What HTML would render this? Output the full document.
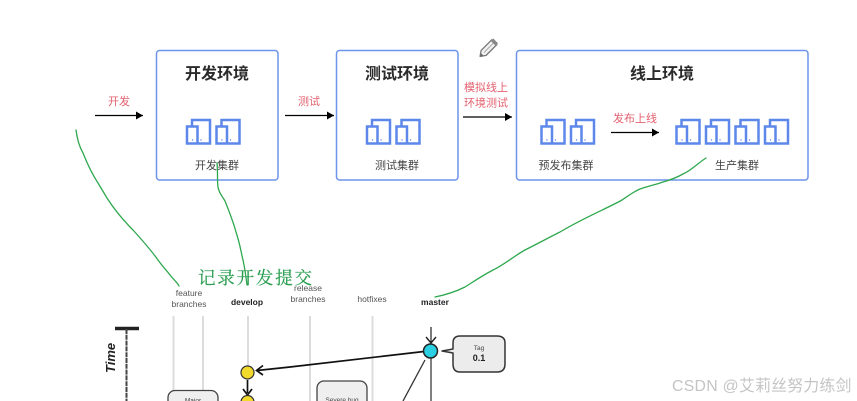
<!DOCTYPE html>
<html><head><meta charset="utf-8">
<style>
html,body{margin:0;padding:0;background:#fff}
svg{display:block;filter:blur(.35px)}
text{font-family:"Liberation Sans","Noto Sans CJK SC",sans-serif}
.t{font-size:16px;font-weight:700;fill:#2b2b2b;text-anchor:middle}
.s{font-size:11px;fill:#444;text-anchor:middle}
.r{font-size:11px;fill:#e4606f;text-anchor:middle}
.g{font-size:8.500px;fill:#555;text-anchor:middle}
.b{font-size:8.500px;font-weight:700;fill:#222;text-anchor:middle}
.box{fill:#fff;stroke:#6d94ea;stroke-width:1.500}
.gl{stroke:#dcdcdc;stroke-width:2;fill:none}
.gr{fill:none;stroke:#2fa84f;stroke-width:1.300;stroke-linejoin:round;stroke-linecap:round}
</style></head>
<body>
<svg width="857" height="401" viewBox="0 0 857 401" xmlns="http://www.w3.org/2000/svg" style="overflow:hidden">
<defs>
<g id="ic" fill="none" stroke="#5d87ea" stroke-width="2.500">
<path d="M6 7.500V1h18v23.500H1V7.500h10.500v17"/>
<circle cx="6.500" cy="21" r=".7" fill="#5d87ea" stroke="none"/>
<circle cx="15" cy="21" r=".7" fill="#5d87ea" stroke="none"/>
</g>
<marker id="ah" markerWidth="9" markerHeight="9" refX="7" refY="4" orient="auto" markerUnits="userSpaceOnUse"><path d="M0 0L7 4L0 8z" fill="#000"/></marker>
</defs>
<rect width="857" height="401" fill="#fff"/>

<rect class="box" x="156.500" y="50.500" width="121.500" height="129.500" rx="3"/>
<rect class="box" x="336.500" y="50.500" width="121.500" height="129.500" rx="3"/>
<rect class="box" x="516.500" y="50.500" width="291.500" height="129.500" rx="3"/>

<text class="t" x="217" y="79">开发环境</text>
<text class="t" x="397" y="79">测试环境</text>
<text class="t" x="662" y="79">线上环境</text>

<use href="#ic" x="186" y="119"/><use href="#ic" x="215.500" y="119"/>
<use href="#ic" x="366" y="119"/><use href="#ic" x="395.500" y="119"/>
<use href="#ic" x="540.500" y="119"/><use href="#ic" x="570" y="119"/>
<use href="#ic" x="675.500" y="119"/><use href="#ic" x="705" y="119"/><use href="#ic" x="734.500" y="119"/><use href="#ic" x="764" y="119"/>

<text class="s" x="217" y="169">开发集群</text>
<text class="s" x="397" y="169">测试集群</text>
<text class="s" x="566" y="169">预发布集群</text>
<text class="s" x="737" y="169">生产集群</text>

<text class="r" x="119" y="105">开发</text>
<text class="r" x="309" y="105">测试</text>
<text class="r" x="486" y="91">模拟线上</text>
<text class="r" x="486" y="106.500">环境测试</text>
<text class="r" x="635" y="122">发布上线</text>

<g stroke="#000" stroke-width="1.300">
<line x1="95" y1="115.500" x2="143" y2="115.500" marker-end="url(#ah)"/>
<line x1="285" y1="115.500" x2="334" y2="115.500" marker-end="url(#ah)"/>
<line x1="463" y1="117" x2="512" y2="117" marker-end="url(#ah)"/>
<line x1="611" y1="132.500" x2="659" y2="132.500" marker-end="url(#ah)"/>
</g>

<!-- pencil -->
<g transform="translate(487.500 49) rotate(45)">
<path d="M-3.500 -9.500h7v15l-3.500 5l-3.500 -5z" fill="#f2f2f2" stroke="#777" stroke-width="1.300" stroke-linejoin="round"/>
<rect x="-3.500" y="-11.500" width="7" height="3.500" fill="#888"/>
<line x1="0" y1="-8" x2="0" y2="5" stroke="#999" stroke-width=".8"/>
<path d="M-1.500 7.500h3l-1.500 2.500z" fill="#666"/>
</g>

<!-- git flow fragment -->
<g class="gl">
<line x1="173.500" y1="316" x2="173.500" y2="391"/>
<line x1="203" y1="316" x2="203" y2="391"/>
<line x1="248" y1="316" x2="248" y2="366"/>
<line x1="310" y1="316" x2="310" y2="401"/>
<line x1="372.500" y1="316" x2="372.500" y2="401"/>
</g>

<text class="g" x="189" y="296">feature</text>
<text class="g" x="189" y="307">branches</text>
<text class="b" x="247" y="305">develop</text>
<text class="g" x="308" y="291">release</text>
<text class="g" x="308" y="302">branches</text>
<text class="g" x="372" y="302">hotfixes</text>
<text class="b" x="435" y="305">master</text>

<path d="M115 328.500H139" stroke="#222" stroke-width="3.500" fill="none"/>
<line x1="126.500" y1="329" x2="126.500" y2="401" stroke="#444" stroke-width="2" stroke-dasharray="5 .8"/>
<text transform="translate(115 373) rotate(-90)" style="font-size:13px;font-weight:700;font-style:italic;fill:#222">Time</text>

<rect x="168" y="390.500" width="50" height="30" rx="7" fill="#efefef" stroke="#444" stroke-width="1.300"/>
<text x="193" y="402.500" style="font-size:6.500px;fill:#444;text-anchor:middle">Major</text>
<rect x="317" y="381" width="50" height="40" rx="7" fill="#efefef" stroke="#444" stroke-width="1.300"/>
<text x="342" y="402" style="font-size:6.500px;fill:#444;text-anchor:middle">Severe bug</text>

<path d="M424 351.500L290 367L257 370.500" stroke="#111" stroke-width="1.700" fill="none"/>
<path d="M263 365.500L256.500 370.500L263 375" stroke="#111" stroke-width="1.700" fill="none"/>
<line x1="247.500" y1="380" x2="247.500" y2="393" stroke="#111" stroke-width="1.700"/>
<path d="M243 389L247.500 395L252 389" stroke="#111" stroke-width="1.700" fill="none"/>
<circle cx="247.500" cy="372.500" r="6.500" fill="#f2da2c" stroke="#333" stroke-width="1.200"/>
<circle cx="247.500" cy="402" r="6.500" fill="#f2da2c" stroke="#333" stroke-width="1.200"/>

<line x1="431" y1="327" x2="431" y2="342" stroke="#222" stroke-width="1.200"/>
<path d="M426 337L431 343L436 337" stroke="#222" stroke-width="1.400" fill="none"/>
<line x1="431" y1="358" x2="431" y2="401" stroke="#555" stroke-width="1.500"/>
<line x1="425" y1="360" x2="403" y2="401" stroke="#333" stroke-width="1.300"/>
<circle cx="430.500" cy="351" r="7" fill="#2bcfe2" stroke="#222" stroke-width="1.500"/>

<path d="M442 351L453 349V343Q453 336 460 336H497Q505 336 505 343V364Q505 372 497 372H460Q453 372 453 364V353Z" fill="#ececec" stroke="#333" stroke-width="1.500" stroke-linejoin="round"/>
<text x="479" y="350" style="font-size:6.500px;fill:#444;text-anchor:middle">Tag</text>
<text x="479" y="361" style="font-size:9px;font-weight:700;fill:#222;text-anchor:middle">0.1</text>

<!-- green annotations -->
<path class="gr" d="M76 130C77 138 79 146 83 153C87 163 92 174 98 183C101 188 104 193 107 198C114 209 124 221 133 230C142 240 151 250 158 260C163 267 167 271 170 275C173 279 177 282 179 286"/>
<path class="gr" d="M217 163C218 172 217 180 218 187C219 193 222 196 225 201C229 211 233 221 236 232C240 244 241 252 243 260C245 269 246 277 247 285"/>
<path class="gr" d="M706 158C698 163 692 170 683 174C676 178 670 180 663 182C655 185 648 186 640 189C633 192 628 196 622 200C608 208 585 217 560 232C548 238 537 244 525 250C514 256 504 265 493 270C480 277 473 282 465 287C455 292 445 295 435 297"/>
<text x="198" y="284" style='font-family:"Liberation Serif","Noto Serif CJK SC",serif;font-size:17.500px;letter-spacing:1.800px;fill:#2a9d50;stroke:#2a9d50;stroke-width:.2px'>记录开发提交</text>

<text x="672" y="391" style="font-size:15.800px;fill:#c4c4c4;letter-spacing:.3px">CSDN @艾莉丝努力练剑</text>
</svg>
</body></html>
